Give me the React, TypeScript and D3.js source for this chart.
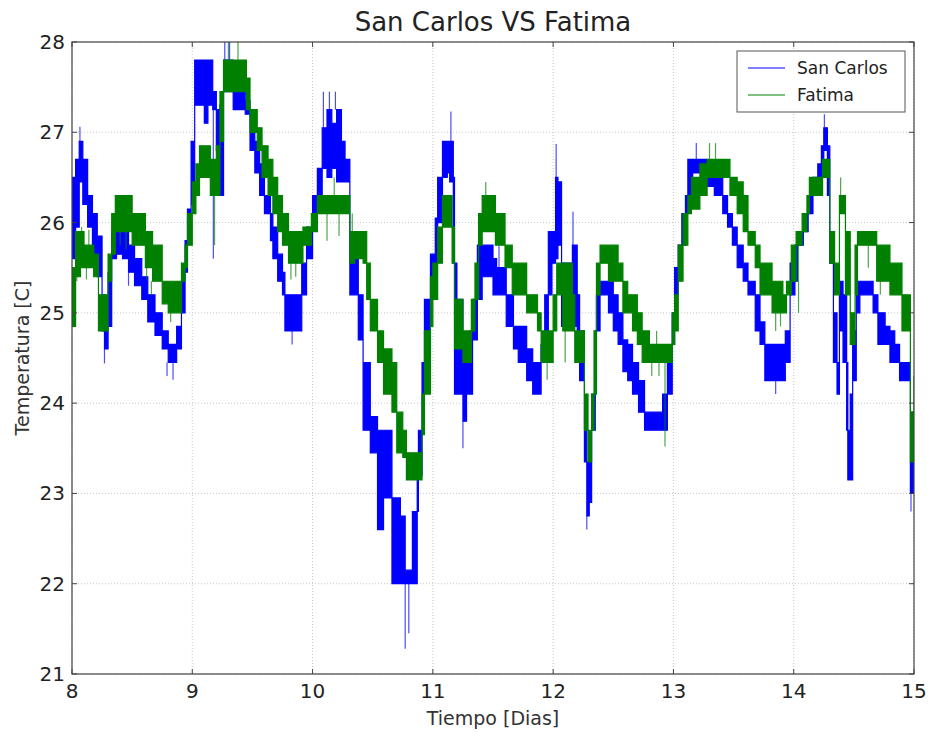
import React from "react";
import * as d3 from "d3";

const width = 936;
const height = 732;
const margin = { top: 42, right: 22, bottom: 58, left: 72 };

// [day, low, high], band of the noisy reading
const sanCarlos: [number, number, number][] = [
  [8.0, 25.6, 26.5], [8.03, 25.95, 26.7], [8.06, 26.45, 26.9], [8.09, 26.2, 26.7], [8.13, 25.95, 26.3],
  [8.17, 25.65, 26.1], [8.21, 25.4, 25.85], [8.25, 24.8, 25.2], [8.27, 24.6, 24.8], [8.3, 24.85, 25.45],
  [8.33, 25.6, 25.9], [8.37, 25.65, 25.95], [8.42, 25.6, 25.9], [8.47, 25.45, 25.75], [8.52, 25.3, 25.6],
  [8.58, 25.15, 25.4], [8.63, 24.9, 25.2], [8.69, 24.75, 25.0], [8.75, 24.6, 24.8], [8.8, 24.45, 24.65],
  [8.84, 24.45, 24.65], [8.87, 24.6, 24.85], [8.91, 25.0, 25.35], [8.94, 25.45, 25.8], [8.96, 25.8, 26.15],
  [8.99, 26.2, 26.9], [9.02, 27.3, 27.8], [9.06, 27.3, 27.8], [9.1, 27.1, 27.8], [9.13, 27.3, 27.8],
  [9.17, 27.25, 27.45], [9.2, 26.8, 27.25], [9.23, 26.3, 27.3], [9.26, 27.45, 27.8], [9.3, 27.45, 27.8],
  [9.34, 27.25, 27.6], [9.4, 27.25, 27.45], [9.44, 27.2, 27.35], [9.48, 26.8, 27.0], [9.52, 26.55, 26.9],
  [9.56, 26.3, 26.65], [9.6, 26.1, 26.3], [9.65, 25.8, 26.1], [9.67, 25.6, 25.95], [9.71, 25.35, 25.65],
  [9.75, 25.2, 25.45], [9.77, 24.8, 25.2], [9.83, 24.8, 25.2], [9.88, 24.8, 25.2], [9.91, 25.2, 25.55],
  [9.95, 25.6, 25.95], [10.0, 25.95, 26.3], [10.04, 26.3, 26.6], [10.08, 26.6, 27.05], [10.12, 26.5, 27.25],
  [10.16, 26.6, 27.1], [10.2, 26.45, 27.25], [10.24, 26.45, 26.9], [10.27, 26.45, 26.7], [10.31, 25.2, 25.8],
  [10.35, 25.2, 25.65], [10.38, 24.7, 25.2], [10.42, 23.7, 24.45], [10.48, 23.45, 23.85], [10.54, 22.6, 23.7],
  [10.59, 22.95, 23.7], [10.66, 22.0, 22.95], [10.73, 22.0, 22.75], [10.77, 22.0, 22.15], [10.8, 22.0, 22.15],
  [10.83, 22.0, 22.8], [10.87, 22.8, 23.2], [10.88, 23.2, 23.7], [10.91, 23.7, 24.45], [10.93, 24.5, 25.15],
  [10.98, 25.15, 25.65], [11.02, 25.55, 26.05], [11.04, 26.0, 26.5], [11.08, 26.5, 26.9], [11.12, 26.55, 26.9],
  [11.14, 26.45, 26.9], [11.17, 25.55, 26.5], [11.18, 24.1, 25.55], [11.2, 24.1, 25.15], [11.22, 24.1, 25.15],
  [11.25, 23.8, 24.45], [11.28, 24.1, 24.45], [11.31, 24.1, 24.8], [11.33, 24.7, 25.15], [11.37, 25.15, 25.75],
  [11.41, 25.4, 25.75], [11.46, 25.4, 25.75], [11.5, 25.2, 25.6], [11.53, 25.2, 25.5], [11.58, 25.2, 25.5],
  [11.61, 24.85, 25.2], [11.67, 24.6, 24.85], [11.71, 24.45, 24.85], [11.78, 24.25, 24.6], [11.83, 24.1, 24.45],
  [11.87, 24.1, 24.45], [11.9, 24.45, 24.65], [11.93, 24.65, 25.2], [11.96, 25.2, 25.9], [11.99, 25.55, 25.9],
  [12.02, 25.6, 26.5], [12.04, 25.75, 26.45], [12.07, 24.85, 25.55], [12.1, 25.2, 25.55], [12.14, 25.2, 25.55],
  [12.16, 24.85, 25.75], [12.2, 24.45, 25.2], [12.22, 24.25, 24.8], [12.26, 23.35, 23.7], [12.28, 22.75, 23.35],
  [12.3, 22.9, 23.35], [12.32, 23.7, 24.1], [12.35, 24.25, 24.8], [12.36, 24.8, 25.2], [12.39, 25.2, 25.35],
  [12.43, 25.2, 25.35], [12.46, 25.0, 25.35], [12.5, 24.8, 25.2], [12.54, 24.65, 25.0], [12.58, 24.35, 24.7],
  [12.62, 24.25, 24.65], [12.66, 24.1, 24.45], [12.71, 23.9, 24.25], [12.76, 23.7, 23.9], [12.85, 23.7, 23.9],
  [12.9, 23.7, 23.9], [12.91, 23.7, 24.1], [12.95, 24.1, 24.45], [12.99, 24.65, 25.0], [13.01, 25.2, 25.5],
  [13.04, 25.5, 25.75], [13.07, 25.75, 26.1], [13.1, 26.1, 26.3], [13.12, 26.3, 26.7], [13.16, 26.55, 26.7],
  [13.22, 26.55, 26.7], [13.28, 26.4, 26.6], [13.34, 26.3, 26.5], [13.39, 26.3, 26.5], [13.41, 26.1, 26.3],
  [13.45, 25.95, 26.1], [13.49, 25.75, 25.95], [13.53, 25.5, 25.75], [13.58, 25.35, 25.55], [13.62, 25.2, 25.35],
  [13.68, 24.8, 25.2], [13.72, 24.65, 24.9], [13.76, 24.25, 24.65], [13.82, 24.25, 24.65], [13.91, 24.25, 24.65],
  [13.93, 24.45, 24.8], [13.97, 25.2, 25.55], [14.01, 25.35, 25.75], [14.03, 25.75, 25.9], [14.08, 25.9, 26.1],
  [14.12, 26.1, 26.3], [14.16, 26.3, 26.5], [14.2, 26.45, 26.65], [14.23, 26.65, 26.85], [14.25, 26.8, 27.05],
  [14.28, 26.3, 26.85], [14.3, 25.55, 25.9], [14.33, 24.45, 25.0], [14.36, 24.1, 24.45], [14.38, 24.8, 25.35],
  [14.41, 24.45, 25.2], [14.44, 23.7, 24.45], [14.45, 23.15, 23.7], [14.47, 23.15, 24.1], [14.49, 24.25, 24.8],
  [14.52, 25.0, 25.35], [14.55, 25.2, 25.35], [14.63, 25.2, 25.35], [14.66, 25.0, 25.2], [14.7, 24.65, 25.0],
  [14.76, 24.65, 24.85], [14.8, 24.45, 24.8], [14.84, 24.45, 24.65], [14.88, 24.25, 24.45], [14.94, 24.25, 24.45],
  [14.97, 23.0, 23.9], [15.0, 23.35, 23.9],
];

const fatima: [number, number, number][] = [
  [8.0, 24.85, 25.5], [8.03, 25.4, 25.9], [8.07, 25.5, 25.9], [8.1, 25.5, 25.75], [8.15, 25.5, 25.75],
  [8.18, 25.4, 25.65], [8.22, 24.8, 25.2], [8.27, 24.8, 25.2], [8.3, 25.35, 25.65], [8.33, 25.65, 26.1],
  [8.36, 25.9, 26.3], [8.42, 25.9, 26.3], [8.47, 25.9, 26.3], [8.5, 25.75, 26.1], [8.57, 25.75, 26.1],
  [8.61, 25.5, 25.9], [8.67, 25.35, 25.75], [8.75, 25.1, 25.35], [8.8, 25.0, 25.35], [8.87, 25.0, 25.35],
  [8.91, 25.35, 25.55], [8.94, 25.5, 25.75], [8.96, 25.75, 26.1], [9.0, 26.1, 26.45], [9.03, 26.3, 26.65],
  [9.06, 26.5, 26.85], [9.12, 26.5, 26.85], [9.15, 26.3, 26.7], [9.2, 26.3, 26.85], [9.23, 26.9, 27.45],
  [9.26, 27.45, 27.8], [9.34, 27.45, 27.8], [9.42, 27.45, 27.8], [9.45, 27.25, 27.6], [9.48, 27.0, 27.25],
  [9.54, 26.8, 27.05], [9.58, 26.5, 26.85], [9.63, 26.3, 26.7], [9.67, 26.1, 26.5], [9.71, 25.9, 26.3],
  [9.75, 25.75, 26.1], [9.8, 25.55, 25.9], [9.88, 25.55, 25.9], [9.92, 25.75, 25.95], [9.99, 25.9, 26.1],
  [10.04, 26.1, 26.3], [10.09, 26.1, 26.3], [10.14, 26.1, 26.3], [10.2, 26.1, 26.3], [10.25, 26.1, 26.3],
  [10.31, 25.55, 25.9], [10.35, 25.6, 25.9], [10.42, 25.55, 25.9], [10.45, 25.15, 25.55], [10.48, 24.8, 25.15],
  [10.54, 24.45, 24.8], [10.59, 24.1, 24.6], [10.66, 23.9, 24.45], [10.7, 23.45, 23.9], [10.75, 23.4, 23.7],
  [10.78, 23.15, 23.45], [10.83, 23.15, 23.45], [10.87, 23.15, 23.45], [10.91, 23.65, 24.1], [10.93, 24.1, 24.8],
  [10.98, 24.85, 25.4], [11.0, 25.15, 25.55], [11.04, 25.55, 25.95], [11.08, 25.95, 26.3], [11.12, 25.95, 26.3],
  [11.16, 25.55, 25.95], [11.18, 24.6, 25.15], [11.21, 24.6, 25.15], [11.25, 24.45, 24.8], [11.29, 24.45, 24.8],
  [11.32, 24.8, 25.15], [11.35, 25.15, 25.55], [11.38, 25.75, 26.1], [11.41, 25.9, 26.3], [11.47, 25.9, 26.3],
  [11.52, 25.75, 26.1], [11.57, 25.75, 26.1], [11.6, 25.5, 25.75], [11.66, 25.2, 25.55], [11.74, 25.2, 25.55],
  [11.78, 25.0, 25.2], [11.83, 25.0, 25.2], [11.87, 24.8, 25.0], [11.9, 24.45, 24.8], [11.97, 24.45, 24.8],
  [12.0, 24.8, 25.2], [12.03, 25.2, 25.55], [12.06, 25.2, 25.55], [12.08, 24.8, 25.55], [12.12, 24.8, 25.55],
  [12.16, 24.8, 25.2], [12.18, 24.45, 24.8], [12.22, 24.45, 24.8], [12.26, 23.7, 24.1], [12.29, 23.35, 23.7],
  [12.32, 23.7, 24.1], [12.34, 24.1, 24.8], [12.36, 25.2, 25.55], [12.39, 25.55, 25.75], [12.43, 25.55, 25.75],
  [12.46, 25.35, 25.75], [12.51, 25.35, 25.75], [12.54, 25.35, 25.55], [12.58, 25.0, 25.35], [12.62, 25.0, 25.2],
  [12.66, 24.8, 25.2], [12.7, 24.65, 25.0], [12.74, 24.45, 24.8], [12.8, 24.45, 24.65], [12.91, 24.45, 24.65],
  [12.95, 24.45, 24.65], [12.99, 24.65, 25.0], [13.01, 24.8, 25.2], [13.04, 25.35, 25.75], [13.08, 25.75, 26.1],
  [13.12, 26.1, 26.3], [13.15, 26.15, 26.5], [13.22, 26.3, 26.65], [13.28, 26.5, 26.7], [13.44, 26.5, 26.7],
  [13.47, 26.3, 26.5], [13.53, 26.1, 26.45], [13.58, 25.9, 26.3], [13.62, 25.75, 25.9], [13.68, 25.5, 25.75],
  [13.72, 25.2, 25.55], [13.78, 25.2, 25.55], [13.82, 25.0, 25.35], [13.91, 25.0, 25.2], [13.94, 25.2, 25.35],
  [13.98, 25.35, 25.75], [14.02, 25.75, 25.9], [14.07, 25.9, 26.1], [14.11, 26.1, 26.3], [14.13, 26.3, 26.5],
  [14.2, 26.3, 26.5], [14.24, 26.5, 26.7], [14.28, 26.5, 26.7], [14.3, 25.55, 25.9], [14.34, 25.2, 25.55],
  [14.38, 26.1, 26.3], [14.41, 26.1, 26.3], [14.43, 25.2, 25.9], [14.47, 24.65, 25.0], [14.51, 25.2, 25.75],
  [14.53, 25.75, 25.9], [14.66, 25.75, 25.9], [14.69, 25.35, 25.75], [14.76, 25.35, 25.75], [14.8, 25.2, 25.55],
  [14.86, 25.2, 25.55], [14.9, 24.8, 25.2], [14.94, 24.8, 25.2], [14.97, 23.35, 23.9], [15.0, 23.5, 24.3],
];

// single readings that stick out of the band: [day, from, to]
const sanCarlosSpikes: [number, number, number][] = [
  [8.066, 26.9, 27.06], [8.27, 24.6, 24.44], [8.84, 24.45, 24.26], [9.175, 27.25, 25.6],
  [9.27, 27.8, 28], [9.31, 27.8, 28], [9.83, 24.8, 24.65], [10.09, 27.05, 27.45],
  [10.14, 27.1, 27.45], [10.19, 27.25, 27.45], [10.77, 22.0, 21.28], [10.8, 22.0, 21.45],
  [11.15, 26.9, 27.23], [11.25, 23.8, 23.5], [12.025, 26.5, 26.87], [12.165, 25.75, 26.12],
  [12.28, 22.75, 22.6], [14.255, 27.05, 27.2], [14.975, 23.0, 22.8], [8.47, 25.45, 25.3],
  [11.55, 25.5, 25.74], [13.19, 26.7, 26.88], [13.85, 24.25, 24.1], [8.79, 24.45, 24.3],
];

const fatimaSpikes: [number, number, number][] = [
  [9.3, 27.8, 28], [9.38, 27.8, 28], [9.185, 26.3, 25.75], [12.93, 24.45, 23.52],
  [10.18, 26.3, 26.5], [10.33, 25.9, 26.1], [11.44, 26.3, 26.45], [14.39, 26.3, 26.5],
  [8.04, 25.5, 25.35], [8.08, 25.75, 25.95], [8.12, 25.5, 25.37], [8.14, 25.75, 25.92],
  [8.4, 25.9, 25.75], [8.45, 25.9, 25.7], [8.62, 25.5, 25.37], [8.66, 25.35, 25.2],
  [8.82, 25.0, 24.9], [9.82, 25.55, 25.37], [9.86, 25.55, 25.4], [9.9, 25.75, 25.55],
  [9.79, 25.9, 26.1], [10.12, 26.1, 25.8], [10.22, 26.1, 25.85], [11.95, 24.45, 24.26],
  [12.1, 24.8, 24.45], [12.82, 24.45, 24.3], [12.88, 24.45, 24.3], [12.86, 24.65, 24.8],
  [13.85, 25.0, 24.8], [13.89, 25.0, 24.85], [14.04, 25.75, 25.0], [14.62, 25.75, 25.5],
  [14.72, 25.35, 25.2], [13.3, 26.7, 26.88], [13.35, 26.7, 26.88],
];

const xTicks = [8, 9, 10, 11, 12, 13, 14, 15];
const yTicks = [21, 22, 23, 24, 25, 26, 27, 28];

const seriesNames = ["San Carlos", "Fatima"];
const seriesColors = ["#0000ff", "#008000"];

export default function App() {
  const x = d3.scaleLinear().domain([8, 15]).range([margin.left, width - margin.right]);
  const y = d3.scaleLinear().domain([21, 28]).range([height - margin.bottom, margin.top]);

  const band = d3.area<[number, number, number]>()
    .x(d => x(d[0]))
    .y0(d => y(d[1]))
    .y1(d => y(d[2]))
    .curve(d3.curveStepAfter);

  const x0 = margin.left;
  const x1 = width - margin.right;
  const y0 = height - margin.bottom;
  const y1 = margin.top;
  const font = "DejaVu Sans, sans-serif";

  const drawSeries = (data: [number, number, number][], spikes: [number, number, number][], color: string) => (
    <g>
      <path d={band(data) || ""} fill={color} stroke={color} strokeWidth={1.2} strokeLinejoin="miter" />
      {spikes.map((s, i) => (
        <line key={i} x1={x(s[0])} x2={x(s[0])} y1={y(s[1])} y2={y(s[2])} stroke={color} strokeWidth={1.2} strokeOpacity={0.7} />
      ))}
    </g>
  );

  return (
    <svg width={width} height={height} style={{ position: "absolute", left: 0, top: 0, background: "#fff" }}>
      <defs>
        <clipPath id="plot">
          <rect x={x0} y={y1} width={x1 - x0} height={y0 - y1} />
        </clipPath>
      </defs>
      {/* grid */}
      <g stroke="#c8c8c8" strokeWidth={1} strokeDasharray="1,2">
        {xTicks.map(t => <line key={"gx" + t} x1={x(t)} x2={x(t)} y1={y1} y2={y0} />)}
        {yTicks.map(t => <line key={"gy" + t} x1={x0} x2={x1} y1={y(t)} y2={y(t)} />)}
      </g>
      <g clipPath="url(#plot)">
        {drawSeries(sanCarlos, sanCarlosSpikes, seriesColors[0])}
        {drawSeries(fatima, fatimaSpikes, seriesColors[1])}
      </g>
      {/* frame and ticks */}
      <rect x={x0} y={y1} width={x1 - x0} height={y0 - y1} fill="none" stroke="#444" strokeWidth={1.2} />
      <g stroke="#444" strokeWidth={1}>
        {xTicks.map(t => (
          <g key={"tx" + t}>
            <line x1={x(t)} x2={x(t)} y1={y0} y2={y0 - 5} />
            <line x1={x(t)} x2={x(t)} y1={y1} y2={y1 + 5} />
          </g>
        ))}
        {yTicks.map(t => (
          <g key={"ty" + t}>
            <line x1={x0} x2={x0 + 5} y1={y(t)} y2={y(t)} />
            <line x1={x1} x2={x1 - 5} y1={y(t)} y2={y(t)} />
          </g>
        ))}
      </g>
      <g fontFamily={font} fontSize={20} fill="#222">
        {xTicks.map(t => (
          <text key={"lx" + t} x={x(t)} y={y0 + 24} textAnchor="middle">{t}</text>
        ))}
        {yTicks.map(t => (
          <text key={"ly" + t} x={x0 - 7} y={y(t) + 7} textAnchor="end">{t}</text>
        ))}
      </g>
      <text x={(x0 + x1) / 2} y={31} textAnchor="middle" fontFamily={font} fontSize={26} fill="#222">San Carlos VS Fatima</text>
      <text x={(x0 + x1) / 2} y={725} textAnchor="middle" fontFamily={font} fontSize={19} fill="#333">Tiempo [Dias]</text>
      <text transform={`translate(29,${(y0 + y1) / 2}) rotate(-90)`} textAnchor="middle" fontFamily={font} fontSize={19} fill="#333">Temperatura [C]</text>
      {/* legend */}
      <g>
        <rect x={737} y={51} width={168} height={61} fill="#fff" stroke="#555" strokeWidth={1} />
        {seriesNames.map((n, i) => (
          <g key={n}>
            <line x1={748} x2={785} y1={68 + i * 27} y2={68 + i * 27} stroke={seriesColors[i]} strokeWidth={1.2} />
            <text x={797} y={74 + i * 27} fontFamily={font} fontSize={17} fill="#222">{n}</text>
          </g>
        ))}
      </g>
    </svg>
  );
}
